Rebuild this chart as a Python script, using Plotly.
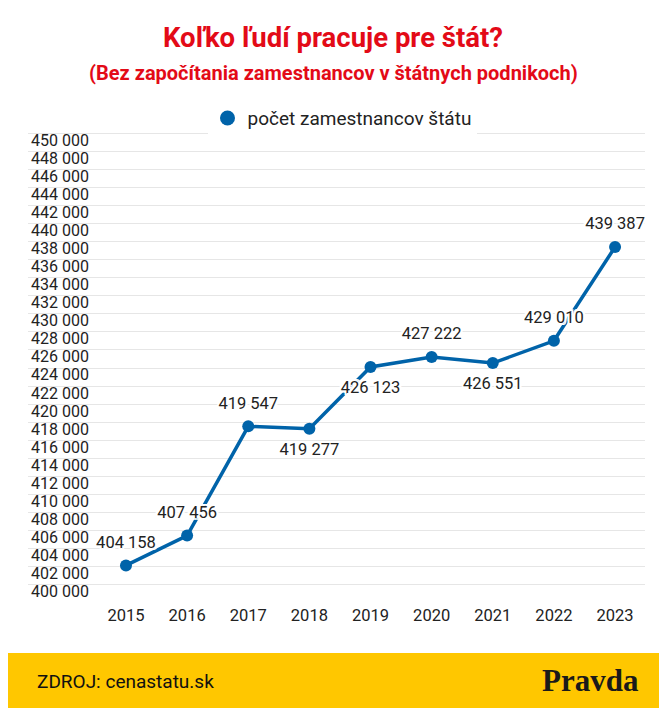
import plotly.graph_objects as go

years = [2015, 2016, 2017, 2018, 2019, 2020, 2021, 2022, 2023]
employees = [404158, 407456, 419547, 419277, 426123, 427222, 426551, 429010, 439387]
label_pos = ["top center", "top center", "top center", "bottom center", "bottom center",
             "top center", "bottom center", "top center", "top center"]

series_name = "počet zamestnancov štátu"
title = "Koľko ľudí pracuje pre štát?"
subtitle = "(Bez započítania zamestnancov v štátnych podnikoch)"
source = "ZDROJ: cenastatu.sk"

blue = "#0063a9"
red = "#e30a17"
halo = "-2px -2px 0 #fff, 2px -2px 0 #fff, -2px 2px 0 #fff, 2px 2px 0 #fff, 0 2px 0 #fff, 0 -2px 0 #fff, 2px 0 0 #fff, -2px 0 0 #fff"

# the page body adds an 8px offset, so figure pixels = page pixels - 8
off = 8
W, H = 667 - off, 708 - off
left_px, right_px = 28 - off, 645 - off
top_px, bottom_px = 151 - off, 603 - off
px_per_unit = (bottom_px - top_px) / 50000
y_top = 453000
plot_top = bottom_px - (y_top - 400000) * px_per_unit
plot_h = bottom_px - plot_top
plot_w = right_px - left_px


def py(pixel):
    # page pixel row -> paper coordinate
    return (bottom_px - (pixel - off)) / plot_h


def px(pixel):
    return (pixel - off - left_px) / plot_w


fig = go.Figure()
fig.add_trace(go.Scatter(
    x=years, y=employees,
    mode="lines+markers",
    line=dict(color=blue, width=3.5),
    marker=dict(color=blue, size=12),
    showlegend=False,
    hoverinfo="skip",
    cliponaxis=False,
))
# value labels (transparent bigger marker gives a bit more distance)
fig.add_trace(go.Scatter(
    x=years, y=employees,
    mode="markers+text",
    marker=dict(color="rgba(0,0,0,0)", size=20),
    text=employees,
    texttemplate="%{y:,d}",
    textposition=label_pos,
    textfont=dict(family="Roboto", size=16.5, color="#222", shadow=halo),
    showlegend=False,
    cliponaxis=False,
))
# legend entry shows only the dot
fig.add_trace(go.Scatter(
    x=[None], y=[None], mode="markers", name=series_name,
    marker=dict(color=blue, size=15),
))

fig.update_layout(
    width=W, height=H,
    margin=dict(l=left_px, r=W - right_px, t=plot_top, b=H - bottom_px, autoexpand=False),
    paper_bgcolor="white", plot_bgcolor="white",
    separators=". ",
    font=dict(family="Roboto", size=16.5, color="#222"),
    showlegend=True,
    legend=dict(orientation="h", x=px(342), xanchor="center", y=py(118), yanchor="middle",
                font=dict(size=19, color="#222"), itemwidth=30),
    annotations=[
        dict(text="<b>" + title + "</b>", x=px(333), xref="paper", y=py(37), yref="paper",
             yanchor="middle", showarrow=False, font=dict(size=27.5, color=red)),
        dict(text="<b>" + subtitle + "</b>", x=px(333), xref="paper", y=py(73), yref="paper",
             yanchor="middle", showarrow=False, font=dict(size=20, color=red)),
        dict(text=source, x=px(35), xref="paper", xanchor="left",
             y=py(682), yref="paper", yanchor="middle",
             showarrow=False, font=dict(size=19, color="#111")),
        dict(text="<b>Pravda</b>", x=px(641), xref="paper", xanchor="right",
             y=py(681), yref="paper", yanchor="middle",
             showarrow=False, font=dict(family="Liberation Serif", size=31, color="#1a1a1a")),
    ],
    shapes=[dict(type="rect", xref="paper", yref="paper",
                 x0=px(6), x1=px(680), y0=py(653), y1=py(720),
                 fillcolor="#ffc700", line=dict(width=0), layer="below")],
)

fig.update_xaxes(
    range=[2013.397, 2023.49],
    tickvals=years, ticktext=[str(y) for y in years],
    showgrid=False, zeroline=False, showline=False,
    ticks="", tickfont=dict(size=16.5, color="#222"),
)
fig.update_yaxes(
    range=[400000, y_top], tick0=400000, dtick=2000, tickformat=",d",
    ticklabelposition="inside top",
    showgrid=True, gridcolor="#e6e6e6", gridwidth=1,
    zeroline=False, showline=False, ticks="",
    tickfont=dict(size=16, color="#222"),
)

fig.write_html("out.html")
